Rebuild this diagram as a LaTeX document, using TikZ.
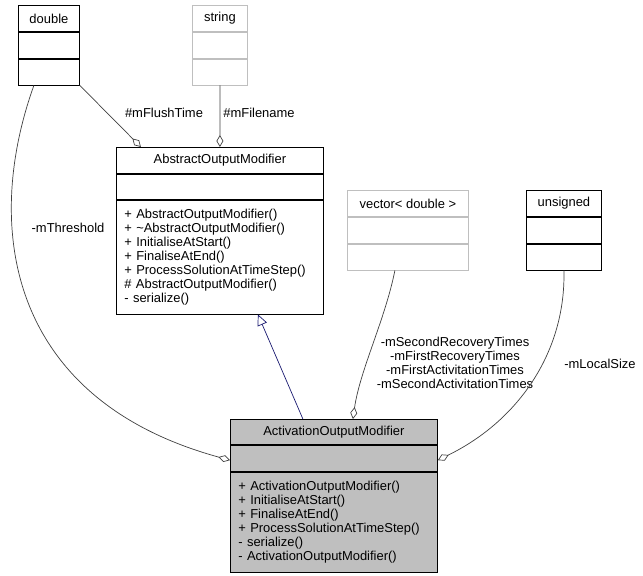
\documentclass[tikz,border=0pt]{standalone}
\usepackage{fontspec}
\setmainfont{Liberation Sans}
\usetikzlibrary{positioning, arrows.meta}

\definecolor{edgegray}{HTML}{404040}
\definecolor{boxgray}{HTML}{BFBFBF}
\definecolor{inhblue}{HTML}{191970}

\begin{document}
\begin{tikzpicture}[
    x=1bp, y=-1bp,
    node distance=0pt,
    font=\fontsize{13}{14}\selectfont,
    cls/.style={rectangle, draw=black, fill=white, line width=0.8bp,
                inner sep=0pt, minimum height=26bp},
    ghost/.style={cls, draw=boxgray},
    cur/.style={cls, fill=boxgray},
    ops/.style={align=left, inner xsep=8bp, inner ysep=0pt},
    lbl/.style={inner sep=0pt, align=center},
    agg/.style={draw=edgegray, line width=0.7bp,
                -{Diamond[open, length=12bp, width=7bp]}},
    inh/.style={draw=inhblue, line width=0.7bp,
                -{Triangle[open, length=11bp, width=10bp]}},
]
\useasboundingbox (0,0) rectangle (643,576);

% classes
\node[cls, minimum width=61bp, anchor=north west] (dbltitle) at (18,5) {double};
\node[cls, minimum width=61bp, below=of dbltitle] (dblattr) {};
\node[cls, minimum width=61bp, below=of dblattr] (dblops) {};

\node[ghost, minimum width=55bp, anchor=north west] (strtitle) at (192,5) {string};
\node[ghost, minimum width=55bp, below=of strtitle] (strattr) {};
\node[ghost, minimum width=55bp, below=of strattr] (strops) {};

\node[cls, minimum width=207bp, anchor=north west] (abstitle) at (116,147) {AbstractOutputModifier};
\node[cls, minimum width=207bp, minimum height=25bp, below=of abstitle] (absattr) {};
\node[cls, ops, text width=191bp, minimum height=114bp, below=of absattr] (absops)
  {+ AbstractOutputModifier()\\+ \textasciitilde AbstractOutputModifier()\\+ InitialiseAtStart()\\+ FinaliseAtEnd()\\+ ProcessSolutionAtTimeStep()\\\# AbstractOutputModifier()\\- serialize()};

\node[ghost, minimum width=121bp, anchor=north west] (vectitle) at (347,190) {vector< double >};
\node[ghost, minimum width=121bp, below=of vectitle] (vecattr) {};
\node[ghost, minimum width=121bp, below=of vecattr] (vecops) {};

\node[cls, minimum width=75bp, anchor=north west] (unstitle) at (526,190) {unsigned};
\node[cls, minimum width=75bp, below=of unstitle] (unsattr) {};
\node[cls, minimum width=75bp, below=of unsattr] (unsops) {};

\node[cur, minimum width=207bp, minimum height=25bp, anchor=north west] (acttitle) at (230,419) {ActivationOutputModifier};
\node[cur, minimum width=207bp, below=of acttitle] (actattr) {};
\node[cur, ops, text width=191bp, minimum height=100bp, below=of actattr] (actops)
  {+ ActivationOutputModifier()\\+ InitialiseAtStart()\\+ FinaliseAtEnd()\\+ ProcessSolutionAtTimeStep()\\- serialize()\\- ActivationOutputModifier()};

% edge labels
\node[lbl] (lthresh) at (68,228) {-mThreshold};
\node[lbl] (lflush) at (164,113) {\#mFlushTime};
\node[lbl] (lfile) at (259,113) {\#mFilename};
\node[lbl] (ltimes) at (455,363)
  {-mSecondRecoveryTimes\\-mFirstRecoveryTimes\\-mFirstActivitationTimes\\-mSecondActivitationTimes};
\node[lbl] (lsize) at (600,364) {-mLocalSize};

% connectors
\draw[agg] ([xshift=-15bp]dblops.south) .. controls (-18,230) and (10,400) .. ([yshift=-2bp]actattr.west);
\draw[agg] (dblops.south east) -- ([xshift=-79bp]abstitle.north);
\draw[agg] (strops.south) -- (abstitle.north);
\draw[inh] ([xshift=-31bp]acttitle.north) -- ([xshift=38bp]absops.south);
\draw[agg] ([xshift=-13bp]vecops.south) .. controls (385,320) and (360,370) .. ([xshift=19bp]acttitle.north);
\draw[agg] (unsops.south) .. controls (566,350) and (520,420) .. ([yshift=-2bp]actattr.east);
\end{tikzpicture}
\end{document}
